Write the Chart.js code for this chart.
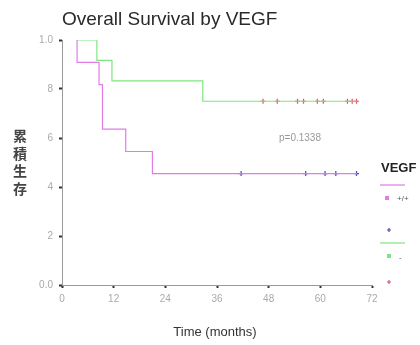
<!DOCTYPE html>
<html><head><meta charset="utf-8">
<script src="https://cdn.jsdelivr.net/npm/chart.js@4/dist/chart.umd.min.js"></script>
<style>html,body{margin:0;padding:0;background:#fff}#w{width:420px;height:345px}</style>
</head><body><div id="w"><canvas id="c" width="420" height="345"></canvas></div>
<script>
// Kaplan-Meier step points (months, cumulative survival)
const posTimes = [3.5, 3.5, 8.6, 9.4, 14.8, 21.0, 68.5];
const posSurv  = [1.0, 0.909, 0.818, 0.636, 0.545, 0.455, 0.455];
const negTimes = [3.5, 8.1, 11.6, 32.7, 68.4];
const negSurv  = [1.0, 0.917, 0.833, 0.75, 0.75];
// censored observations
const posCensTimes = [41.6, 56.6, 61.1, 63.6, 68.4];
const posCensSurv  = [0.455, 0.455, 0.455, 0.455, 0.455];
const negCensTimes = [46.7, 50.0, 54.7, 56.1, 59.3, 60.7, 66.3, 67.4, 68.4];
const negCensSurv  = [0.75, 0.75, 0.75, 0.75, 0.75, 0.75, 0.75, 0.75, 0.75];
const xTicks = [0, 12, 24, 36, 48, 60, 72];
const yTickVals = [0, 0.2, 0.4, 0.6, 0.8, 1.0];
const yTickLabels = ['0.0', '2', '4', '6', '8', '1.0'];
const titleText = 'Overall Survival by VEGF';
const xTitle = 'Time (months)';
const yTitleChars = ['累', '積', '生', '存'];
const pText = 'p=0.1338';
const legendTitle = 'VEGF';
const legendPos = '+/+';
const legendNeg = '-';

const PINK = '#e27be6', GREEN = '#7ee67e', BLUE = '#4a4aa8', RED = '#e0506e';
const pts = (xs, ys) => xs.map((x, i) => ({x, y: ys[i]}));

const deco = {
  id: 'deco',
  afterDraw(chart) {
    const c = chart.ctx;
    c.save();
    c.textBaseline = 'middle';
    c.fillStyle = '#2a2a2a';
    c.font = '19px "Liberation Sans", Arial, sans-serif';
    c.textAlign = 'left';
    c.fillText(titleText, 62, 20);
    c.fillStyle = '#444';
    c.font = 'bold 14px "Noto Sans CJK JP", sans-serif';
    c.textAlign = 'center';
    yTitleChars.forEach((ch, i) => c.fillText(ch, 20, 136 + i * 17.5));
    c.font = '13px "Liberation Sans", Arial, sans-serif';
    c.fillStyle = '#333';
    c.fillText(xTitle, 215, 332);
    c.font = '10px "Liberation Sans", Arial, sans-serif';
    c.fillStyle = '#999';
    c.fillText(pText, 300, 138);
    // legend
    c.textAlign = 'left';
    c.font = 'bold 13px "Liberation Sans", Arial, sans-serif';
    c.fillStyle = '#222';
    c.fillText(legendTitle, 381, 168);
    c.lineWidth = 1.2;
    c.strokeStyle = PINK;
    c.beginPath(); c.moveTo(380, 185); c.lineTo(405, 185); c.stroke();
    c.strokeStyle = GREEN;
    c.beginPath(); c.moveTo(380, 243); c.lineTo(405, 243); c.stroke();
    const sq = (x, y, col) => { c.fillStyle = col; c.fillRect(x - 2, y - 2, 4, 4); };
    const cross = (x, y, col) => { c.strokeStyle = col; c.lineWidth = 1.2; c.beginPath(); c.moveTo(x - 2, y); c.lineTo(x + 2, y); c.moveTo(x, y - 2); c.lineTo(x, y + 2); c.stroke(); };
    sq(387, 198, PINK);
    cross(389, 230, BLUE);
    sq(389, 256, GREEN);
    cross(389, 282, RED);
    c.fillStyle = '#555';
    c.font = '8px "Liberation Sans", Arial, sans-serif';
    c.fillText(legendPos, 397, 199);
    c.fillText(legendNeg, 399, 258);
    c.restore();
  }
};

new Chart(document.getElementById('c'), {
  type: 'scatter',
  data: {
    datasets: [
      {data: pts(posTimes, posSurv), showLine: true, stepped: true, borderColor: PINK, borderWidth: 1.2, pointRadius: 0, fill: false},
      {data: pts(negTimes, negSurv), showLine: true, stepped: true, borderColor: GREEN, borderWidth: 1.2, pointRadius: 0, fill: false},
      {data: pts(posCensTimes, posCensSurv), showLine: false, pointStyle: 'cross', pointRadius: 2.5, borderColor: BLUE, borderWidth: 1.2},
      {data: pts(negCensTimes, negCensSurv), showLine: false, pointStyle: 'cross', pointRadius: 2.5, borderColor: RED, borderWidth: 1.2}
    ]
  },
  options: {
    responsive: false,
    animation: false,
    layout: {padding: {top: 40, right: 48, left: 0, bottom: 0}},
    plugins: {legend: {display: false}, tooltip: {enabled: false}},
    scales: {
      x: {
        type: 'linear', min: 0, max: 72,
        afterBuildTicks: s => { s.ticks = xTicks.map(v => ({value: v})); },
        afterFit: s => { s.height = 60; },
        grid: {drawOnChartArea: false, tickLength: 3, tickColor: '#333', tickWidth: 2},
        border: {color: '#999', width: 1},
        ticks: {padding: 5, color: '#aaa', font: {size: 10, family: 'Liberation Sans'}, maxRotation: 0}
      },
      y: {
        type: 'linear', min: 0, max: 1,
        afterBuildTicks: s => { s.ticks = yTickVals.map(v => ({value: v})); },
        afterFit: s => { s.width = 62; },
        grid: {drawOnChartArea: false, tickLength: 3, tickColor: '#333', tickWidth: 2},
        border: {color: '#999', width: 1},
        ticks: {padding: 6, color: '#aaa', font: {size: 10, family: 'Liberation Sans'},
          callback: v => { const i = yTickVals.findIndex(t => Math.abs(t - v) < 1e-6); return i >= 0 ? yTickLabels[i] : ''; }}
      }
    }
  },
  plugins: [deco]
});
</script>
</body></html>
